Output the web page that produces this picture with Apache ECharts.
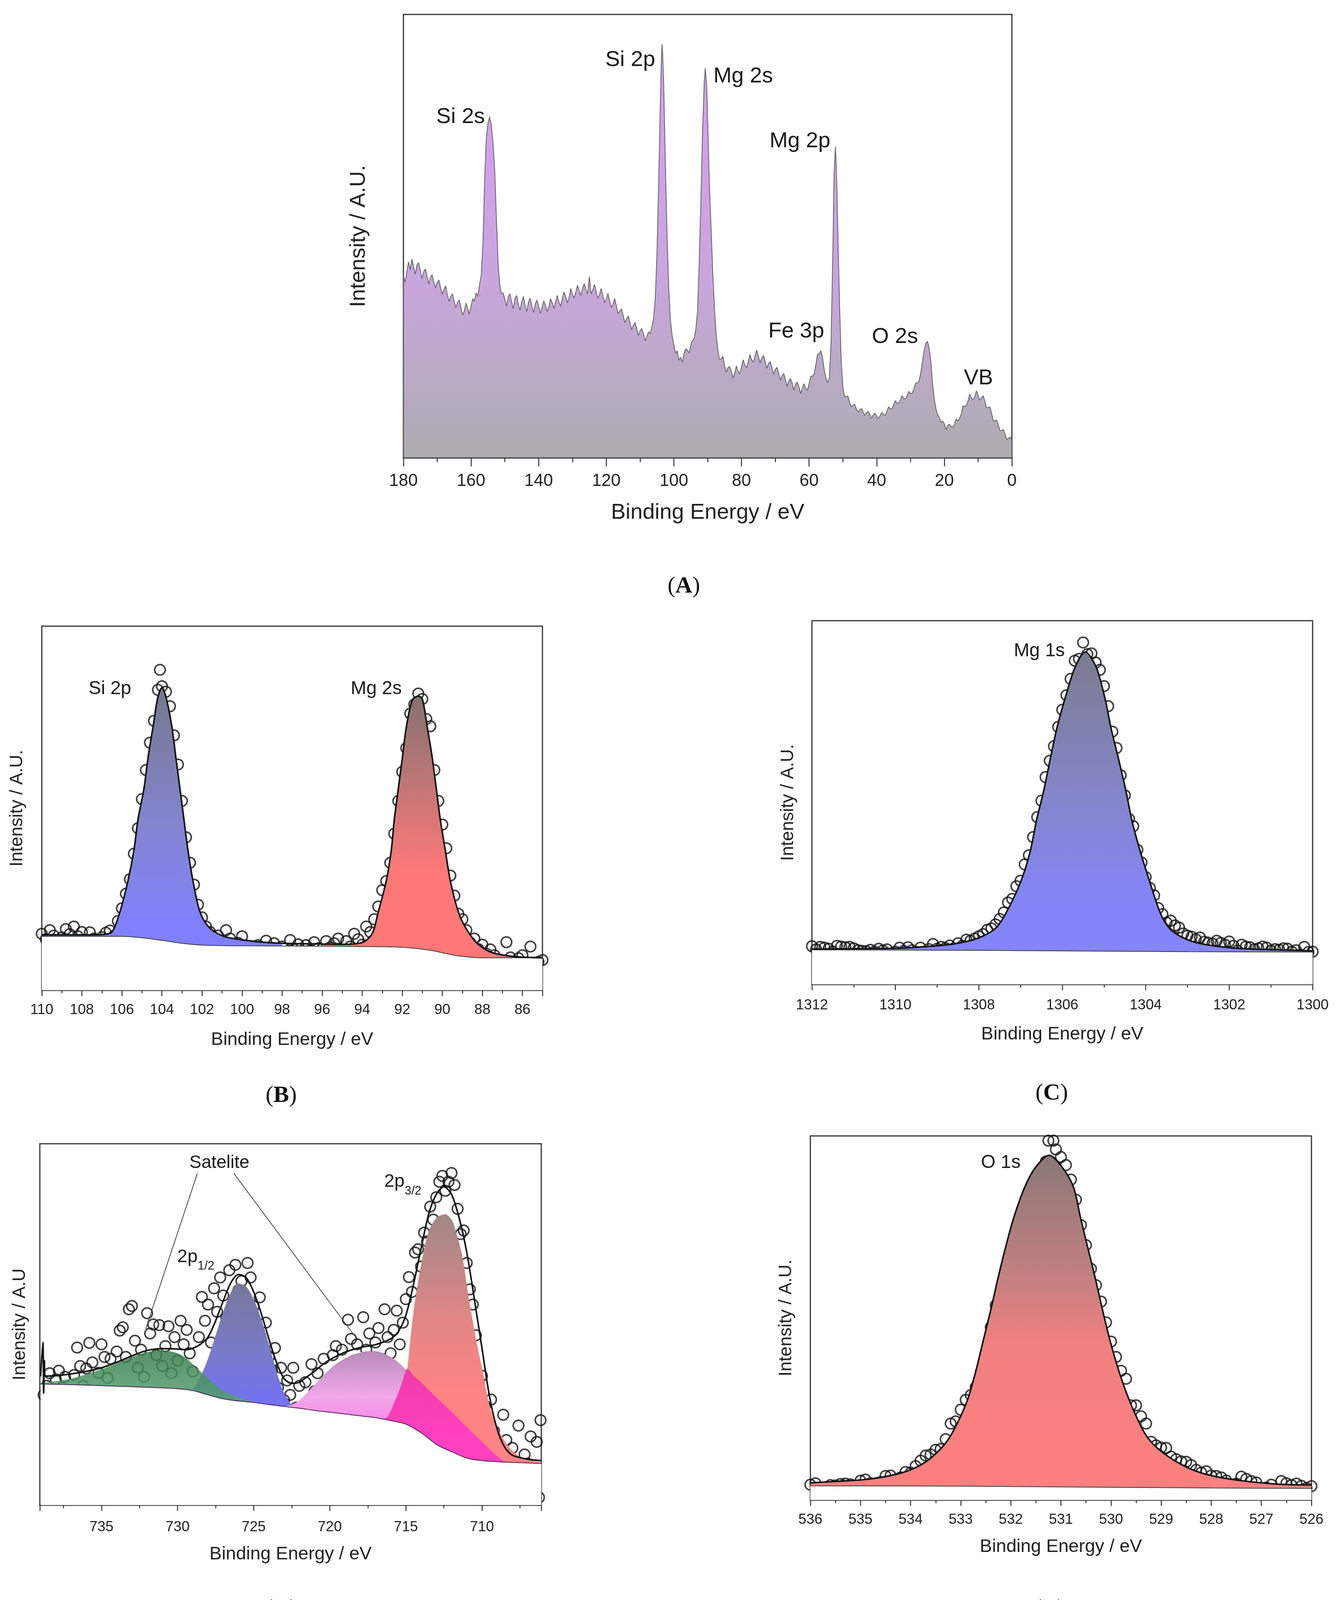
<!DOCTYPE html>
<html>
<head>
<meta charset="utf-8">
<script src="https://cdn.jsdelivr.net/npm/echarts@6.0.0/dist/echarts.min.js"></script>
<style>
  html, body { margin: 0; padding: 0; background: #fff; }
  #chart-container { width: 3426px; height: 4190px; }
</style>
</head>
<body>
<div id="chart-container"></div>
<script>
// ---- (A) survey spectrum: [binding energy, intensity as % of frame height]
const surveyPts = [
  [180,41.2],[179.5,39.6],[179,41.9],[178.5,44.2],[178,42.4],[177.5,44.8],[177,43.1],[176.5,41.4],[176,43.5],[175.5,44.0],
  [175,42.2],[174.5,40.4],[174,42.0],[173.5,42.6],[173,40.9],[172.5,39.2],[172,40.7],[171.5,41.3],[171,39.7],[170.5,38.3],
  [170,39.6],[169.5,40.1],[169,38.3],[168.5,36.9],[168,38.0],[167.5,38.8],[167,36.7],[166.5,35.3],[166,36.4],[165.5,37.0],
  [165,35.3],[164.5,33.9],[164,35.0],[163.5,35.6],[163,34.0],[162.5,32.2],[162,33.1],[161.5,34.9],[161,33.7],[160.5,32.4],
  [160,34.2],[159.5,35.9],[159,35.3],[158.5,37.2],[158,36.4],[157.5,39],[157,41],[156.5,48],[156,62],[155.5,72],
  [155,75.5],[154.5,76.9],[154,75],[153.5,71],[153,65],[152.5,54],[152,44],[151.5,39],[151,37],[150.5,37.2],
  [150,35.8],[149.5,34.2],[149,36.3],[148.5,37.0],[148,35.2],[147.5,33.6],[147,36.0],[146.5,36.6],[146,34.5],[145.5,33.3],
  [145,35.2],[144.5,36.4],[144,34.3],[143.5,33.0],[143,35.1],[142.5,36.0],[142,34.1],[141.5,32.8],[141,34.7],[140.5,35.6],
  [140,34.2],[139.5,32.6],[139,33.8],[138.5,35.4],[138,34.5],[137.5,33.0],[137,34.0],[136.5,35.9],[136,35.0],[135.5,33.7],
  [135,35.2],[134.5,36.6],[134,35.1],[133.5,34.2],[133,35.9],[132.5,37.4],[132,36.3],[131.5,35.0],[131,36.1],[130.5,38.2],
  [130,36.9],[129.5,36.0],[129,37.4],[128.5,38.9],[128,37.7],[127.5,36.6],[127,38.3],[126.5,39.3],[126,37.9],[125.5,37.0],
  [125,40.9],[124.5,37.0],[124,37.8],[123.5,39.1],[123,37.5],[122.5,36.0],[122,36.8],[121.5,38.2],[121,36.6],[120.5,35.0],
  [120,35.8],[119.5,37.1],[119,35.4],[118.5,33.9],[118,34.7],[117.5,35.9],[117,34.2],[116.5,32.5],[116,33.1],[115.5,33.6],
  [115,32.1],[114.5,30.5],[114,31.3],[113.5,32.0],[113,30.6],[112.5,28.9],[112,29.9],[111.5,30.5],[111,29.2],[110.5,27.6],
  [110,28.6],[109.5,29.2],[109,28.0],[108.5,26.4],[108,27.4],[107.5,28.4],[107,28.0],[106.5,29.5],[106,31.5],[105.5,36],
  [105,46],[104.5,62],[104,80],[103.7,90],[103.5,93.3],[103.3,91],[103,84],[102.5,66],[102,50],[101.5,38],
  [101,31],[100.5,27.5],[100,25.4],[99.5,23.6],[99,24.1],[98.5,22.0],[98,22.7],[97.5,21.6],[97,23.5],[96.5,24.6],
  [96,24.3],[95.5,23.6],[95,25.4],[94.5,26.5],[94,26.9],[93.5,29],[93,33],[92.5,44],[92,58],[91.5,74],
  [91,85],[90.7,87.9],[90.3,84],[90,76],[89.5,62],[89,52],[88.5,42],[88,34],[87.5,28],[87,24.5],
  [86.5,22.2],[86,22.3],[85.5,22.9],[85,20.8],[84.5,19.3],[84,20.3],[83.5,20.6],[83,19.5],[82.5,18.0],[82,19.1],
  [81.5,20.7],[81,19.5],[80.5,19.0],[80,20.5],[79.5,22.1],[79,20.9],[78.5,20.3],[78,21.7],[77.5,23.3],[77,22.1],
  [76.5,21.6],[76,22.9],[75.5,24.3],[75,22.9],[74.5,21.4],[74,22.5],[73.5,23.1],[73,21.8],[72.5,20.2],[72,21.3],
  [71.5,21.7],[71,20.4],[70.5,18.9],[70,19.9],[69.5,20.4],[69,19.1],[68.5,17.5],[68,18.5],[67.5,19.0],[67,17.7],
  [66.5,16.1],[66,17.3],[65.5,17.9],[65,16.8],[64.5,15.3],[64,16.6],[63.5,17.1],[63,16.0],[62.5,14.5],[62,15.7],
  [61.5,16.7],[61,15.7],[60.5,15.2],[60,16.7],[59.5,18.4],[59,18.4],[58.5,19.0],[58,20.9],[57.5,23.4],[57,23.4],
  [56.5,24.2],[56,22.5],[55.5,19.8],[55,18.0],[54.5,17.0],[54,18.0],[53.5,26],[53,45],[52.6,64],[52.2,70.2],
  [51.8,62],[51.4,48],[51,35],[50.5,22],[50,16.0],[49.5,13.8],[49,13.9],[48.5,13.9],[48,12.5],[47.5,11.5],
  [47,11.9],[46.5,12.1],[46,11.0],[45.5,10.3],[45,10.9],[44.5,11.1],[44,10.3],[43.5,9.6],[43,10.2],[42.5,10.5],
  [42,9.7],[41.5,8.9],[41,9.7],[40.5,10.1],[40,9.4],[39.5,8.8],[39,9.5],[38.5,10.2],[38,9.8],[37.5,9.6],
  [37,10.4],[36.5,11.5],[36,11.1],[35.5,11.0],[35,11.9],[34.5,12.9],[34,12.4],[33.5,12.3],[33,13.0],[32.5,14.0],
  [32,13.4],[31.5,13.3],[31,14.1],[30.5,15.0],[30,14.5],[29.5,14.6],[29,15.5],[28.5,16.8],[28,16.9],[27.5,17.2],
  [27,19.0],[26.5,21.5],[26,24.0],[25.5,25.8],[25,26.3],[24.5,24.8],[24,21.8],[23.5,17.0],[23,13.5],[22.5,11.2],
  [22,9.8],[21.5,9.2],[21,8.0],[20.5,8.3],[20,7.7],[19.5,6.4],[19,7.2],[18.5,7.6],[18,7.1],[17.5,6.8],
  [17,7.5],[16.5,8.7],[16,8.3],[15.5,8.9],[15,9.8],[14.5,11.7],[14,11.6],[13.5,11.8],[13,12.7],[12.5,14.4],
  [12,13.5],[11.5,13.1],[11,13.7],[10.5,15.1],[10,14.1],[9.5,13.0],[9,13.5],[8.5,14.0],[8,12.8],[7.5,11.3],
  [7,11.3],[6.5,11.5],[6,10.0],[5.5,8.3],[5,8.4],[4.5,8.5],[4,7.4],[3.5,6.1],[3,6.2],[2.5,6.4],
  [2,5.3],[1.5,4.1],[1,4.4],[0.5,4.7],[0,4.0]
];
const surveyLabels = [
  ['Si 2s', 163.1, 76.9], ['Si 2p', 112.9, 89.7], ['Mg 2s', 79.5, 86.0], ['Mg 2p', 62.7, 71.4],
  ['Fe 3p', 63.8, 28.5], ['O 2s', 34.6, 27.3], ['VB', 9.9, 17.9]
];

// ---- (B) Si 2p / Mg 2s
const fitB = [
  [110,15.2],[109,15.2],[108,15.2],[107,15.3],[106.5,16.0],[106.1,21.5],[105.7,30.0],[105.4,38.4],[105.2,46.8],[104.9,55.3],
  [104.7,63.7],[104.45,72.2],[104.2,80.6],[104.0,83.1],[103.8,80.6],[103.5,72.2],[103.3,63.7],[103.1,55.3],[102.9,46.8],[102.7,38.4],
  [102.45,30.0],[102.1,21.5],[101.65,17.3],[100.9,14.8],[99.5,13.5],[98,12.9],[96,12.7],[95,12.6],[94,13.1],[93.5,15.6],
  [93.2,21.5],[92.8,30.0],[92.55,38.4],[92.4,46.8],[92.2,55.3],[92.0,63.7],[91.8,72.2],[91.5,79.7],[91.2,80.8],[91.0,80.0],
  [90.75,72.2],[90.5,63.7],[90.3,55.3],[90.1,46.8],[89.85,38.4],[89.6,30.0],[89.2,21.5],[88.85,17.3],[88.3,13.1],[87.6,10.5],
  [86.5,9.3],[85,8.9]
];
const bgB = [
  [110,14.8],[106,14.8],[105,14.4],[104,13.7],[103,12.9],[102,12.4],[100,12.2],[96,12.1],[94,12.0],[92.5,11.9],
  [91.5,11.6],[90.5,10.9],[90,10.3],[89.5,9.7],[89,9.3],[88,8.9],[85,8.9]
];
const ptsB = [
  [110.0,15.5],[109.8,14.0],[109.6,16.5],[109.4,15.0],[109.2,13.2],[109.0,14.5],[108.8,16.8],[108.6,15.4],[108.4,17.5],[108.2,14.8],
  [108.0,16.0],[107.8,13.5],[107.6,15.9],[107.4,14.2],[107.1,10.2],[107.0,14.6],[106.8,15.8],[106.6,16.4],[106.4,14.9],[106.2,19.0],
  [106.0,22.5],[105.8,26.5],[105.6,30.5],[105.4,37.5],[105.2,44.5],[105.0,52.5],[104.8,60.5],[104.6,68.0],[104.4,74.0],[104.2,82.5],
  [104.1,88.0],[104.0,83.5],[103.8,82.0],[103.6,78.0],[103.4,70.0],[103.2,62.0],[103.0,52.0],[102.8,42.0],[102.6,35.0],[102.4,29.0],
  [102.2,23.5],[102.0,20.0],[101.8,17.5],[101.6,16.0],[101.4,13.5],[101.2,15.0],[101.0,12.0],[100.8,16.5],[100.6,14.2],[100.4,11.8],
  [100.2,13.0],[100.0,14.8],[99.8,12.2],[99.6,11.0],[99.4,9.8],[99.2,12.4],[99.0,10.9],[98.8,13.6],[98.6,11.5],[98.4,12.9],
  [98.2,10.5],[98.0,12.0],[97.8,10.3],[97.6,13.8],[97.4,11.2],[97.2,12.6],[97.0,10.8],[96.8,12.4],[96.6,11.0],[96.4,13.2],
  [96.2,11.5],[96.0,10.2],[95.8,13.5],[95.6,11.8],[95.4,12.9],[95.2,14.2],[95.0,11.0],[94.8,13.5],[94.6,12.0],[94.4,15.5],
  [94.2,14.0],[94.0,12.5],[93.8,17.5],[93.6,16.0],[93.4,19.5],[93.2,23.0],[93.0,27.5],[92.8,30.0],[92.6,35.0],[92.4,43.0],
  [92.2,52.0],[92.0,60.0],[91.8,66.5],[91.6,76.0],[91.4,78.5],[91.2,81.5],[91.0,80.0],[90.8,74.5],[90.6,72.5],[90.4,60.5],
  [90.2,52.0],[90.0,45.5],[89.8,39.0],[89.6,31.5],[89.4,26.0],[89.2,21.0],[89.0,19.5],[88.8,16.5],[88.6,13.0],[88.4,14.2],
  [88.2,11.3],[88.0,12.5],[87.8,10.0],[87.6,11.2],[87.4,9.6],[87.2,8.4],[87.0,6.0],[86.8,13.2],[86.6,9.0],[86.4,7.5],
  [86.2,8.8],[86.0,9.6],[85.8,7.0],[85.6,12.0],[85.4,6.0],[85.2,7.8],[85.0,8.3]
];
const labelsB = [['Si 2p', 106.6, 82.7], ['Mg 2s', 93.3, 82.7]];

// ---- (C) Mg 1s
const fitC = [
  [1312,9.7],[1311,9.8],[1310,9.9],[1309.5,10.2],[1309,10.6],[1308.5,11.3],[1308,12.8],[1307.6,15.4],[1307.35,19.6],[1307.0,28.1],
  [1306.77,36.5],[1306.62,45.0],[1306.44,53.5],[1306.29,61.9],[1306.13,70.4],[1305.93,78.8],[1305.69,87.3],[1305.45,91.4],[1305.19,87.3],[1304.98,78.8],
  [1304.83,70.4],[1304.65,61.9],[1304.48,53.5],[1304.33,45.0],[1304.13,36.5],[1303.9,28.1],[1303.65,19.6],[1303.43,15.4],[1303.12,12.9],[1302.68,11.2],
  [1301.8,9.9],[1300.9,9.5],[1300,9.2]
];
const bgC = [[1312,9.5],[1309,9.4],[1306,9.2],[1303,9.0],[1300,8.9]];
const ptsC = [
  [1312.0,10.5],[1311.9,9.6],[1311.8,10.3],[1311.7,10.1],[1311.6,9.8],[1311.5,9.0],[1311.4,10.6],[1311.3,10.4],[1311.2,10.2],[1311.1,10.3],
  [1311.0,9.9],[1310.9,9.4],[1310.8,9.2],[1310.7,9.1],[1310.6,9.5],[1310.5,9.0],[1310.4,9.8],[1310.3,9.3],[1310.2,9.6],[1310.1,8.5],
  [1310.0,9.0],[1309.9,10.1],[1309.8,9.2],[1309.7,10.2],[1309.6,9.4],[1309.5,8.9],[1309.4,10.1],[1309.3,9.0],[1309.2,9.7],[1309.1,11.1],
  [1309.0,9.8],[1308.9,10.3],[1308.8,10.0],[1308.7,10.7],[1308.6,9.9],[1308.5,11.3],[1308.4,10.6],[1308.3,12.3],[1308.2,12.0],[1308.1,12.6],
  [1308.0,13.2],[1307.9,13.8],[1307.8,15.0],[1307.7,15.4],[1307.6,16.5],[1307.5,18.0],[1307.4,19.8],[1307.3,22.5],[1307.2,23.5],[1307.1,27.0],
  [1307.0,28.5],[1306.9,33.0],[1306.8,35.5],[1306.7,40.5],[1306.6,46.0],[1306.5,50.5],[1306.4,57.0],[1306.3,61.5],[1306.2,65.5],[1306.1,70.8],
  [1306.0,75.5],[1305.9,79.5],[1305.8,84.0],[1305.7,89.0],[1305.6,89.5],[1305.5,94.0],[1305.4,90.8],[1305.3,91.0],[1305.2,88.5],[1305.1,86.5],
  [1305.0,82.0],[1304.9,76.5],[1304.8,69.5],[1304.7,65.0],[1304.6,57.5],[1304.5,52.0],[1304.4,45.5],[1304.3,43.5],[1304.2,37.0],[1304.1,33.5],
  [1304.0,29.5],[1303.9,26.5],[1303.8,24.5],[1303.7,21.0],[1303.6,19.3],[1303.5,17.0],[1303.4,17.5],[1303.3,16.2],[1303.2,15.6],[1303.1,14.0],
  [1303.0,13.4],[1302.9,13.1],[1302.8,12.4],[1302.7,12.9],[1302.6,11.7],[1302.5,11.5],[1302.4,11.2],[1302.3,12.0],[1302.2,11.4],[1302.1,10.9],
  [1302.0,11.8],[1301.9,10.6],[1301.8,9.3],[1301.7,10.9],[1301.6,10.4],[1301.5,10.2],[1301.4,9.6],[1301.3,9.9],[1301.2,10.4],[1301.1,10.1],
  [1301.0,9.3],[1300.9,9.7],[1300.8,9.5],[1300.7,9.9],[1300.6,9.8],[1300.5,9.0],[1300.4,9.4],[1300.3,8.2],[1300.2,10.3],[1300.1,8.9],
  [1300.0,9.0]
];
const labelsC = [['Mg 1s', 1306.55, 91.7]];

// ---- (D) Fe 2p
const fitD = [
  [739,35.6],[738.85,45],[738.8,31],[738.75,40],[738.7,35.7],[738,35.8],[737,36.3],[736,37.0],[735,38.0],[734,39.5],
  [733,41.3],[732,42.8],[731,43.3],[730,43.2],[729.5,43.0],[729,43.4],[728.5,44.5],[728,46.5],[727.5,51.0],[727,56.5],
  [726.5,61.5],[726,63.8],[725.5,63.0],[725,59.0],[724.5,53.0],[724,46.0],[723.5,39.5],[723,35.0],[722.5,33.7],[722,34.0],
  [721.5,35.5],[721,37.0],[720.5,38.8],[720,40.2],[719,42.3],[718,43.6],[717,44.4],[716,46.0],[715.5,48.0],[715,52.5],
  [714.5,61.0],[714,71.0],[713.5,80.5],[713,86.0],[712.5,88.1],[712,86.0],[711.5,79.5],[711,70.0],[710.5,57.0],[710,43.5],
  [709.5,30.0],[709,21.0],[708.5,16.0],[708,13.8],[707,12.7],[706.1,12.3]
];
const bgD = [
  [739,33.5],[736,33.2],[734,32.9],[732,32.6],[730,32.2],[729,31.7],[728,30.5],[727,29.4],[726,28.8],[725,28.4],
  [724,27.8],[723,27.3],[722,26.8],[721,26.2],[720,25.7],[719,25.2],[718,24.7],[717,24.2],[716,23.4],[715,22.4],
  [714,20.0],[713,16.8],[712.5,15.7],[712,14.8],[711,13.0],[710,12.3],[709,12.0],[708,11.8],[706.1,11.5]
];
const satGreenD = [
  [739,33.8],[738,34.3],[737,35.0],[736,36.2],[735,37.6],[734,39.2],[733,41.0],[732,42.3],[731,42.8],[730,42.0],
  [729.5,40.8],[729,39.0],[728.5,37.0],[728,35.0],[727.5,33.2],[727,31.6],[726,29.8],[725,28.6],[724,27.8]
];
const p12D = [
  [729,32.0],[728.5,35.5],[728,40.5],[727.5,47.0],[727,53.5],[726.5,58.8],[726,61.3],[725.5,60.5],[725,57.0],[724.5,51.5],
  [724,44.5],[723.5,37.0],[723,31.0],[722.5,27.8],[722,26.9]
];
const satPinkD = [
  [723,27.3],[722.5,27.8],[722,29.0],[721.5,31.0],[721,33.3],[720.5,35.5],[720,37.6],[719.5,39.3],[719,40.6],[718.5,41.6],
  [718,42.2],[717.5,42.6],[717,42.6],[716.5,42.0],[716,41.0],[715.5,39.5],[715,37.5],[714.5,35.0],[714,32.0],[713.5,28.5],
  [713,25.0]
];
const p32D = [
  [716,22.9],[715.2,25.0],[714.9,37.7],[714.6,50.0],[714.4,56.5],[714,66.5],[713.5,75.8],[713,79.5],[712.7,80.2],[712.4,80.5],
  [712,79.0],[711.8,77.0],[711.3,69.1],[710.9,58.1],[710.4,46.2],[709.9,36.0],[709.5,27.5],[709,21.6],[708.3,16.5],[707.4,13.1],
  [706.1,11.9]
];
const shoulderD = [
  [716.5,23.6],[716.2,24.5],[716,26.0],[715.8,28.0],[715.5,31.0],[715.2,34.5],[714.9,37.7],[714.5,35.8],[714,33.9],[713,29.8],
  [712,25.8],[711,21.6],[710,17.5],[709,13.5],[708.5,12.0],[708,11.7],[706.1,11.5]
];
const ptsD = [
  [738.8,30.5],[738.6,33.0],[738.4,36.5],[738.2,31.0],[738.0,34.8],[737.8,37.2],[737.6,32.5],[737.4,35.5],[737.2,27.5],[737.0,29.7],
  [736.8,36.0],[736.6,43.6],[736.4,38.5],[736.2,33.0],[736.0,37.8],[735.8,44.9],[735.6,39.5],[735.4,30.0],[735.2,36.6],[735.0,44.5],
  [734.8,41.0],[734.6,35.2],[734.4,40.5],[734.2,31.0],[734.0,42.5],[733.8,48.3],[733.6,49.2],[733.4,41.0],[733.2,54.2],[733.0,55.1],
  [732.8,45.5],[732.6,38.0],[732.4,43.0],[732.2,35.5],[732.0,53.1],[731.8,47.5],[731.6,50.0],[731.4,41.5],[731.2,49.8],[731.0,38.5],
  [730.8,44.0],[730.6,49.5],[730.4,36.5],[730.2,46.5],[730.0,40.0],[729.8,51.0],[729.6,44.5],[729.4,48.5],[729.2,42.0],[729.0,37.0],
  [728.8,27.0],[728.6,46.5],[728.4,57.6],[728.2,51.0],[728.0,55.5],[727.8,45.0],[727.6,60.0],[727.4,53.5],[727.2,63.0],[727.0,58.0],
  [726.8,52.0],[726.6,65.0],[726.4,43.2],[726.2,66.5],[726.0,59.5],[725.8,62.0],[725.6,56.0],[725.4,67.0],[725.2,63.0],[725.0,55.0],
  [724.8,47.0],[724.6,57.5],[724.4,44.5],[724.2,50.5],[724.0,41.0],[723.8,37.5],[723.6,43.5],[723.4,32.5],[723.2,38.0],[723.0,29.0],
  [722.8,34.5],[722.6,30.5],[722.4,38.0],[722.2,27.0],[722.0,33.0],[721.8,25.8],[721.6,34.0],[721.4,25.5],[721.2,39.0],[721.0,31.5],
  [720.8,36.5],[720.6,29.0],[720.4,40.5],[720.2,23.7],[720.0,35.0],[719.8,41.5],[719.6,44.0],[719.4,37.0],[719.2,43.0],[719.0,36.0],
  [718.8,51.3],[718.6,46.0],[718.4,40.0],[718.2,44.5],[718.0,38.5],[717.8,52.0],[717.6,43.0],[717.4,47.5],[717.2,36.0],[717.0,45.0],
  [716.8,49.0],[716.6,40.5],[716.4,54.2],[716.2,46.5],[716.0,42.0],[715.8,48.5],[715.6,53.8],[715.4,44.5],[715.2,50.5],[715.0,57.0],
  [714.8,63.1],[714.6,59.0],[714.4,69.9],[714.2,70.8],[714.0,66.0],[713.8,75.4],[713.6,73.0],[713.4,82.6],[713.2,79.0],[713.0,85.2],
  [712.8,89.5],[712.6,91.1],[712.4,87.0],[712.2,89.5],[712.0,91.9],[711.8,88.6],[711.6,82.0],[711.4,75.0],[711.2,76.0],[711.0,67.0],
  [710.8,59.7],[710.6,55.5],[710.4,47.0],[710.2,34.3],[710.0,35.8],[709.8,27.5],[709.6,23.3],[709.4,29.2],[709.2,20.5],[709.0,16.5],
  [708.8,13.3],[708.6,25.0],[708.4,18.0],[708.2,12.5],[708.0,15.8],[707.8,8.0],[707.6,22.0],[707.4,10.5],[707.2,14.0],[707.0,11.5],
  [706.8,19.0],[706.6,8.9],[706.4,17.5],[706.25,2.1],[706.15,23.5]
];
const labelsD = [
  ['Satelite', 727.25, 94.7], ['{m|2p}{s|1/2}', 728.8, 67.8], ['{m|2p}{s|3/2}', 715.2, 88.6]
];
// arrows: [x0, y0, x1, y1]
const arrowsD = [[728.7, 91.8, 732.1, 48.7], [726.3, 91.8, 718.4, 47.0]];

// ---- (E) O 1s
const fitE = [
  [536,4.7],[535.5,5.1],[534.85,5.7],[534.19,7.4],[533.75,10.0],[533.39,14.2],[533.17,18.4],[532.88,26.9],[532.70,35.3],[532.55,43.8],
  [532.40,52.2],[532.26,60.7],[532.11,69.1],[531.94,77.6],[531.72,86.0],[531.5,91.5],[531.23,94.7],[530.98,91.5],[530.75,86.0],[530.61,77.6],
  [530.46,69.1],[530.31,60.7],[530.17,52.2],[530.02,43.8],[529.84,35.3],[529.62,26.9],[529.33,18.4],[529.07,14.2],[528.63,10.0],[528.19,7.4],
  [527.61,5.7],[526.73,4.4],[526,4.1]
];
const bgE = [[536,3.9],[533,3.8],[530,3.5],[528,3.3],[526,3.2]];
const ptsE = [
  [536.0,4.2],[535.9,4.6],[535.8,3.3],[535.7,3.5],[535.6,4.1],[535.5,4.0],[535.4,4.4],[535.3,4.5],[535.2,4.3],[535.1,1.5],
  [535.0,5.3],[534.9,5.6],[534.8,4.6],[534.7,4.2],[534.6,4.9],[534.5,6.6],[534.4,6.7],[534.3,5.6],[534.2,6.2],[534.1,7.7],
  [534.0,7.5],[533.9,9.3],[533.8,10.8],[533.7,12.2],[533.6,12.5],[533.5,13.8],[533.4,14.0],[533.3,16.7],[533.2,21.0],[533.1,21.6],
  [533.0,24.8],[532.9,27.5],[532.8,28.8],[532.7,31.0],[532.6,35.0],[532.5,39.3],[532.4,47.5],[532.3,53.5],[532.2,57.5],[532.1,63.0],
  [532.0,67.5],[531.9,70.8],[531.8,76.3],[531.7,81.3],[531.6,85.5],[531.5,86.6],[531.4,88.5],[531.3,93.0],[531.25,98.7],[531.15,98.7],
  [531.1,96.3],[531.0,94.2],[530.9,92.0],[530.8,88.0],[530.7,82.5],[530.6,75.5],[530.5,70.0],[530.4,63.5],[530.3,59.0],[530.2,54.5],
  [530.1,48.8],[530.0,43.5],[529.9,39.3],[529.8,35.5],[529.7,33.3],[529.6,26.0],[529.5,26.0],[529.4,23.0],[529.3,21.0],[529.2,16.0],
  [529.1,15.0],[529.0,14.4],[528.9,14.3],[528.8,11.9],[528.7,11.2],[528.6,10.6],[528.5,10.5],[528.4,9.6],[528.3,8.3],[528.2,7.5],
  [528.1,7.9],[528.0,6.7],[527.9,6.6],[527.8,6.2],[527.7,5.3],[527.6,3.8],[527.5,4.5],[527.4,6.4],[527.3,5.8],[527.2,5.2],
  [527.1,4.8],[527.0,3.3],[526.9,3.4],[526.8,4.2],[526.7,2.8],[526.6,5.2],[526.5,4.6],[526.4,4.1],[526.3,4.5],[526.2,3.9],
  [526.1,3.3],[526.0,3.8]
];
const labelsE = [['O 1s', 532.2, 92.6]];

const captions = [['A', 1751, 1501], ['B', 720, 2805], ['C', 2693, 2799], ['D', 720, 4119], ['E', 2687, 4119]];

// ---------------------------------------------------------------------------
const FONT = "'Liberation Sans', Arial, Helvetica, sans-serif";
const SERIF = "'Liberation Serif', 'Times New Roman', serif";

const grids = [
  { left: 1033, top: 37, width: 1558, height: 1135 },
  { left: 107, top: 1603, width: 1282, height: 932 },
  { left: 2079, top: 1589, width: 1282, height: 931 },
  { left: 102, top: 2928, width: 1284, height: 925 },
  { left: 2075, top: 2908, width: 1283, height: 932 }
];

const xCfg = [
  { min: 0, max: 180, interval: 20, labelSize: 44, margin: 38, nameSize: 56, nameGap: 113, tickLen: 22, showMin: true, showMax: true },
  { min: 85, max: 110, step: 2, splitNumber: 12, labelSize: 37, margin: 32, nameSize: 47, nameGap: 104, tickLen: 15, showMin: false, showMax: true },
  { min: 1300, max: 1312, interval: 2, labelSize: 37, margin: 35, nameSize: 47, nameGap: 105, tickLen: 15, showMin: true, showMax: true },
  { min: 706.1, max: 739.05, step: 5, splitNumber: 7, labelSize: 37, margin: 38, nameSize: 47, nameGap: 103, tickLen: 15, showMin: false, showMax: false },
  { min: 526, max: 536, interval: 1, labelSize: 37, margin: 32, nameSize: 47, nameGap: 97, tickLen: 15, showMin: true, showMax: true }
];
const yCfg = [
  { name: 'Intensity / A.U.', nameSize: 56, nameGap: 86 },
  { name: 'Intensity / A.U.', nameSize: 46, nameGap: 40 },
  { name: 'Intensity / A.U.', nameSize: 46, nameGap: 38 },
  { name: 'Intensity / A.U', nameSize: 46, nameGap: 28 },
  { name: 'Intensity / A.U.', nameSize: 46, nameGap: 39 }
];

function grad(stops) {
  return new echarts.graphic.LinearGradient(0, 0, 0, 1, stops.map(([offset, color]) => ({ offset, color })));
}

function makeXAxis(gridIndex, c) {
  const ax = {
    type: 'value', gridIndex, inverse: true, min: c.min, max: c.max,
    name: 'Binding Energy / eV', nameLocation: 'middle', nameGap: c.nameGap,
    nameTextStyle: { fontSize: c.nameSize, color: '#222', fontFamily: FONT },
    axisLine: { show: true, onZero: false, lineStyle: { color: '#333', width: 3 } },
    axisTick: { show: true, length: c.tickLen, lineStyle: { color: '#333', width: 2.5 } },
    minorTick: { show: true, splitNumber: 2, length: Math.round(c.tickLen * 0.5), lineStyle: { color: '#333', width: 2.5 } },
    axisLabel: {
      fontSize: c.labelSize, color: '#222', margin: c.margin, fontFamily: FONT,
      showMinLabel: c.showMin, showMaxLabel: c.showMax, formatter: v => String(v)
    },
    splitLine: { show: false }, minorSplitLine: { show: false }
  };
  if (c.interval) ax.interval = c.interval;
  if (c.step) { ax.minInterval = c.step; ax.maxInterval = c.step; ax.splitNumber = c.splitNumber; }
  return ax;
}

function makeYAxis(gridIndex, c) {
  return {
    type: 'value', gridIndex, min: 0, max: 100,
    name: c.name, nameLocation: 'middle', nameGap: c.nameGap,
    nameTextStyle: { fontSize: c.nameSize, color: '#222', fontFamily: FONT },
    axisLine: { show: false }, axisTick: { show: false }, axisLabel: { show: false }, splitLine: { show: false }
  };
}

function fillSeries(idx, data, stops, opacity) {
  return {
    type: 'line', xAxisIndex: idx, yAxisIndex: idx, data, smooth: 0.3, showSymbol: false, silent: true,
    lineStyle: { width: 0, opacity: 0 },
    areaStyle: { origin: 'start', color: grad(stops), opacity: opacity === undefined ? 1 : opacity }
  };
}

// background line; its white area hides the component fills below it
function baseSeries(idx, data, color) {
  return {
    type: 'line', xAxisIndex: idx, yAxisIndex: idx, data, smooth: 0.3, showSymbol: false, silent: true,
    lineStyle: { color: color || '#3a3a3a', width: 2 },
    areaStyle: { origin: 'start', color: '#ffffff', opacity: 1 }
  };
}

function labelMarks(labels, size, rich) {
  return {
    symbol: 'circle', symbolSize: 0, silent: true, animation: false,
    label: { show: true, position: 'inside', color: '#1a1a1a', fontSize: size, fontFamily: FONT, formatter: p => p.name, rich: rich || {} },
    data: labels.map(l => ({ name: l[0], coord: [l[1], l[2]] }))
  };
}

function fitSeries(idx, data, labels, size, rich) {
  return {
    type: 'line', xAxisIndex: idx, yAxisIndex: idx, data, smooth: 0.3, showSymbol: false, silent: true,
    lineStyle: { color: '#111', width: 4 },
    markPoint: labels ? labelMarks(labels, size, rich) : undefined
  };
}

function pointSeries(idx, data) {
  return {
    type: 'scatter', xAxisIndex: idx, yAxisIndex: idx, data, symbol: 'circle', symbolSize: 27, silent: true,
    itemStyle: { color: 'rgba(0,0,0,0)', borderColor: '#111', borderWidth: 4 }
  };
}

const BLUE = [[0, '#77778f'], [0.45, '#8484d0'], [0.8, '#8080ff'], [1, '#8080ff']];
const RED = [[0, '#857070'], [0.35, '#cc7777'], [0.6, '#ff7878'], [1, '#ff7878']];

const subRich = {
  m: { fontSize: 47, fontFamily: FONT, color: '#1a1a1a', lineHeight: 47, padding: [0, 0, 16, 0] },
  s: { fontSize: 31, fontFamily: FONT, color: '#1a1a1a', lineHeight: 31, padding: [32, 0, 0, 0] }
};

const series = [
  // (A)
  {
    type: 'line', xAxisIndex: 0, yAxisIndex: 0, data: surveyPts, showSymbol: false, silent: true,
    lineStyle: { color: '#626262', width: 2 },
    areaStyle: {
      origin: 'start',
      color: grad([[0, '#c675ee'], [0.57, '#b27ecf'], [0.75, '#a084b4'], [0.95, '#8d8894'], [1, '#89868f']])
    },
    markPoint: labelMarks(surveyLabels, 56)
  },
  // (B)
  fillSeries(1, fitB.filter(p => p[0] >= 97.5), BLUE),
  fillSeries(1, fitB.filter(p => p[0] <= 97.5), RED),
  baseSeries(1, bgB),
  fitSeries(1, fitB, labelsB, 48),
  pointSeries(1, ptsB),
  // (C)
  fillSeries(2, fitC, [[0, '#7c7c90'], [0.45, '#8585cc'], [0.75, '#8585f8'], [1, '#8585ff']]),
  baseSeries(2, bgC),
  fitSeries(2, fitC, labelsC, 48),
  pointSeries(2, ptsC),
  // (D)
  fillSeries(3, p12D, [[0, '#77779a'], [0.3, '#7a7ac8'], [0.55, '#7272f5'], [1, '#7272f5']]),
  fillSeries(3, satGreenD, [[0, '#3a7a4a'], [0.2, '#4a9462'], [0.35, '#56a474'], [1, '#56a474']], 0.85),
  fillSeries(3, satPinkD, [[0, '#b58ab5'], [0.15, '#d59ad2'], [0.3, '#f2a8ea'], [0.45, '#f58ae6'], [1, '#f58ae6']]),
  fillSeries(3, p32D, [[0, '#a08888'], [0.35, '#e08686'], [0.6, '#ff8484'], [1, '#ff8484']]),
  fillSeries(3, shoulderD, [[0, '#f03ca8'], [0.5, '#ff40c0'], [1, '#ff40c0']]),
  baseSeries(3, bgD, '#4a2050'),
  Object.assign(fitSeries(3, fitD, labelsD, 46, subRich), {
    markLine: {
      silent: true, animation: false, symbol: ['none', 'arrow'], symbolSize: [0, 24],
      lineStyle: { color: '#444', width: 2, type: 'solid' }, label: { show: false },
      data: arrowsD.map(a => [{ coord: [a[0], a[1]] }, { coord: [a[2], a[3]] }])
    }
  }),
  pointSeries(3, ptsD),
  // (E)
  fillSeries(4, fitE, [[0, '#8a7878'], [0.35, '#c48080'], [0.55, '#f28080'], [1, '#ff8080']]),
  baseSeries(4, bgE),
  fitSeries(4, fitE, labelsE, 48),
  pointSeries(4, ptsE)
];

const chartDom = document.getElementById('chart-container');
const myChart = echarts.init(chartDom, null, { renderer: 'canvas' });

const option = {
  animation: false,
  backgroundColor: '#ffffff',
  textStyle: { fontFamily: FONT },
  grid: grids.map(g => Object.assign({ show: true, borderColor: '#333', borderWidth: 3, backgroundColor: 'transparent', containLabel: false }, g)),
  xAxis: xCfg.map((c, i) => makeXAxis(i, c)),
  yAxis: yCfg.map((c, i) => makeYAxis(i, c)),
  series,
  graphic: captions.map(c => ({
    type: 'text', x: c[1], y: c[2], silent: true,
    style: {
      text: '{p|(}{b|' + c[0] + '}{p|)}', align: 'center', verticalAlign: 'middle',
      rich: {
        p: { fontFamily: SERIF, fontSize: 60, fill: '#111', color: '#111' },
        b: { fontFamily: SERIF, fontSize: 60, fontWeight: 'bold', fill: '#111', color: '#111' }
      }
    }
  }))
};

myChart.setOption(option);
</script>
</body>
</html>
